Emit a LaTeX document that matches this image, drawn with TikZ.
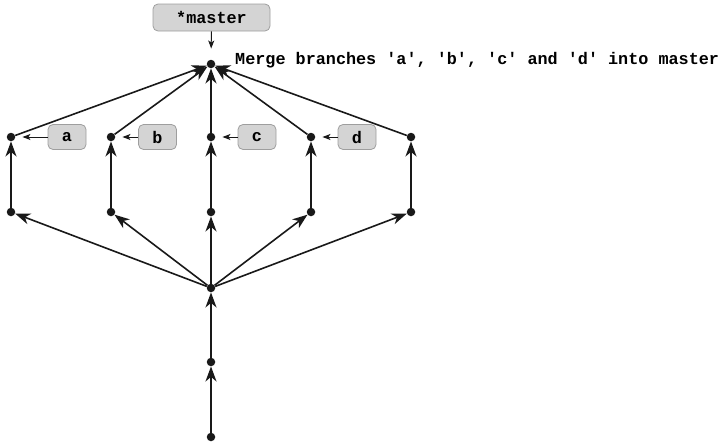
\documentclass[tikz,border=0pt]{standalone}
\usepackage{fontspec}
\newfontfamily\codefont{Liberation Mono}
\usetikzlibrary{arrows.meta}
\begin{document}
\begin{tikzpicture}[x=1pt,y=-1pt,
  dot/.style={circle,fill=black!90,inner sep=0pt,minimum size=8.5pt},
  edge/.style={line width=1.6pt,draw=black!90,-{Stealth[length=15pt,width=11pt,inset=4.5pt]}},
  tag/.style={draw=black!38,fill=black!17,rounded corners=5pt,line width=0.8pt,inner sep=0pt,
    font=\codefont\bfseries\fontsize{16.8}{20}\selectfont},
  tagarrow/.style={line width=1pt,draw=black!90,-{Stealth[length=8pt,width=6pt,inset=2pt]}},
  txt/.style={font=\codefont\bfseries\fontsize{16.8}{20}\selectfont,inner sep=0pt}]
\useasboundingbox (0,0) rectangle (725,447);
% commits
\node[dot] (r) at (211,437) {};
\node[dot] (p) at (211,362) {};
\node[dot] (h) at (211,288) {};
\foreach \i/\x in {1/11,2/111,3/211,4/311,5/411}{
  \node[dot] (m\i) at (\x,212) {};
  \node[dot] (t\i) at (\x,137) {};
}
\node[dot] (g) at (211,64) {};
% edges
\draw[edge] (r) -- (p);
\draw[edge] (p) -- (h);
\foreach \i in {1,...,5}{
  \draw[edge] (h) -- (m\i);
  \draw[edge] (m\i) -- (t\i);
  \draw[edge] (t\i) -- (g);
}
% labels
\node[tag,minimum width=117pt,minimum height=27pt] (master) at (211.5,17.5) {*master};
\draw[tagarrow,shorten >=11pt] (master) -- (g);
\foreach \n/\x/\t in {a/67/1,b/157.5/2,c/257/3,d/357/4}{
  \node[tag,minimum width=38pt,minimum height=25pt] (l\n) at (\x,137) {\n};
  \draw[tagarrow,shorten >=7pt] (l\n) -- (t\t);
}
\node[txt,anchor=west] (msg) at (235,60) {Merge branches 'a', 'b', 'c' and 'd' into master};
\end{tikzpicture}
\end{document}
